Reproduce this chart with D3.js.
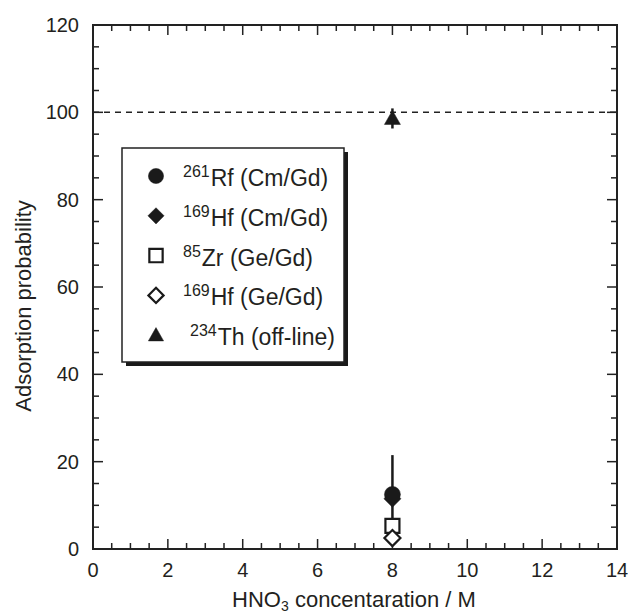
<!DOCTYPE html>
<html><head><meta charset="utf-8">
<script src="https://cdn.jsdelivr.net/npm/d3@7"></script>
<style>
html,body{margin:0;padding:0;background:#fff;}
text{font-family:"Liberation Sans",Arial,Helvetica,sans-serif;fill:#231f20;}
</style></head>
<body>
<svg id="chart" width="628" height="615"></svg>
<script>
// ---- data ----
const seriesNames = ["Rf (Cm/Gd)", "Hf (Cm/Gd)", "Zr (Ge/Gd)", "Hf (Ge/Gd)", "Th (off-line)"];
const seriesMass = ["261", "169", "85", "169", "234"];
const seriesShapes = ["circle", "diamondFilled", "squareOpen", "diamondOpen", "triangle"];
const seriesX = [8, 8, 8, 8, 8];
const seriesY = [12.5, 11.5, 5.3, 2.5, 98.6];
const seriesErr = [9, 0, 0, 0, 2.3];
const xTicks = [0, 2, 4, 6, 8, 10, 12, 14];
const yTicks = [0, 20, 40, 60, 80, 100, 120];
const refLine = 100;

const svg = d3.select("#chart");
const m = {l: 93, r: 617, t: 25, b: 549};
const x = d3.scaleLinear().domain([0, 14]).range([m.l, m.r]);
const y = d3.scaleLinear().domain([0, 120]).range([m.b, m.t]);

function shapePath(kind, s) {
  const p = d3.path();
  if (kind === "circle") { p.arc(0, 0, s, 0, 2 * Math.PI); }
  else if (kind.startsWith("diamond")) { p.moveTo(0, -s); p.lineTo(s, 0); p.lineTo(0, s); p.lineTo(-s, 0); p.closePath(); }
  else if (kind.startsWith("square")) { p.rect(-s, -s, 2 * s, 2 * s); }
  else if (kind === "triangle") { p.moveTo(0, -s); p.lineTo(s * 1.0, s * 0.75); p.lineTo(-s * 1.0, s * 0.75); p.closePath(); }
  return p.toString();
}
function styleShape(sel, kind) {
  const open = kind.endsWith("Open");
  sel.attr("fill", open ? "#fff" : "#1a1a1a").attr("stroke", "#1a1a1a").attr("stroke-width", open ? 2.2 : 0.5);
}
const markerSize = {circle: 8, diamondFilled: 8.5, squareOpen: 7, diamondOpen: 8, triangle: 8};

// dashed reference line
svg.append("line").attr("x1", x(0)).attr("x2", x(14)).attr("y1", y(refLine)).attr("y2", y(refLine))
  .attr("stroke", "#222").attr("stroke-width", 1.5).attr("stroke-dasharray", "6,5");

// ticks (inward on all sides)
const tickColor = "#222";
const xMinor = d3.range(0, 14.001, 0.5);
const yMinor = d3.range(0, 120.001, 5);
const tg = svg.append("g").attr("stroke", tickColor).attr("stroke-width", 1.5);
xMinor.forEach(v => {
  const major = Math.abs(v % 2) < 1e-9;
  const len = major ? 10 : 6;
  tg.append("line").attr("x1", x(v)).attr("x2", x(v)).attr("y1", m.b).attr("y2", m.b - len);
  tg.append("line").attr("x1", x(v)).attr("x2", x(v)).attr("y1", m.t).attr("y2", m.t + len);
});
yMinor.forEach(v => {
  const major = Math.abs(v % 20) < 1e-9;
  const len = major ? 10 : 6;
  tg.append("line").attr("y1", y(v)).attr("y2", y(v)).attr("x1", m.l).attr("x2", m.l + len);
  tg.append("line").attr("y1", y(v)).attr("y2", y(v)).attr("x1", m.r).attr("x2", m.r - len);
});

// frame
svg.append("rect").attr("x", m.l).attr("y", m.t).attr("width", m.r - m.l).attr("height", m.b - m.t)
  .attr("fill", "none").attr("stroke", "#222").attr("stroke-width", 2);

// tick labels
svg.append("g").selectAll("text").data(xTicks).join("text")
  .attr("x", d => x(d)).attr("y", 577).attr("text-anchor", "middle").attr("font-size", 20).text(d => d);
svg.append("g").selectAll("text").data(yTicks).join("text")
  .attr("x", 79).attr("y", d => y(d) + 7).attr("text-anchor", "end").attr("font-size", 20).text(d => d);

// axis titles
const xt = svg.append("text").attr("x", 354).attr("y", 607).attr("text-anchor", "middle").attr("font-size", 22);
xt.append("tspan").text("HNO");
xt.append("tspan").attr("font-size", 14).attr("dy", 4).text("3");
xt.append("tspan").attr("dy", -4).text(" concentaration / M");

svg.append("text").attr("transform", `translate(31,306) rotate(-90)`)
  .attr("text-anchor", "middle").attr("font-size", 22).text("Adsorption probability");

// error bars
svg.append("g").selectAll("line").data(seriesY.map((v, i) => i).filter(i => seriesErr[i] > 0)).join("line")
  .attr("x1", i => x(seriesX[i])).attr("x2", i => x(seriesX[i]))
  .attr("y1", i => y(seriesY[i] - seriesErr[i])).attr("y2", i => y(seriesY[i] + seriesErr[i]))
  .attr("stroke", "#1a1a1a").attr("stroke-width", 2.5);

// markers: draw order so circle is over filled diamond
const order = [1, 0, 2, 3, 4];
order.forEach(i => {
  const k = seriesShapes[i];
  svg.append("path").attr("d", shapePath(k, markerSize[k]))
    .attr("transform", `translate(${x(seriesX[i])},${y(seriesY[i])})`)
    .call(styleShape, k);
});

// legend
const lg = svg.append("g");
const lx = 122, ly = 148, lw = 222, lh = 214;
lg.append("rect").attr("x", lx + 4).attr("y", ly + 4).attr("width", lw).attr("height", lh).attr("fill", "#1a1a1a");
lg.append("rect").attr("x", lx).attr("y", ly).attr("width", lw).attr("height", lh)
  .attr("fill", "#fff").attr("stroke", "#222").attr("stroke-width", 1.5);
seriesNames.forEach((name, i) => {
  const ry = 176 + i * 39.8;
  const k = seriesShapes[i];
  lg.append("path").attr("d", shapePath(k, markerSize[k] * 0.95)).attr("transform", `translate(156,${ry})`).call(styleShape, k);
  const t = lg.append("text").attr("x", i === 4 ? 190 : 183).attr("y", ry + 10).attr("font-size", 23);
  t.append("tspan").attr("font-size", 16).attr("dy", -9).text(seriesMass[i]);
  t.append("tspan").attr("dy", 9).attr("dx", 1).text(name);
});
</script>
</body></html>
